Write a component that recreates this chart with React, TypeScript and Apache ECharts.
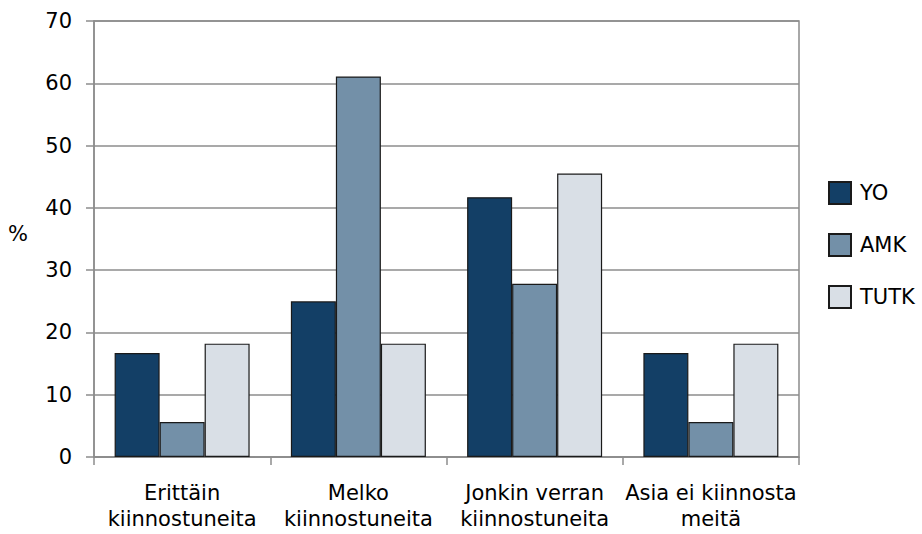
import React, { useEffect, useRef } from "react";
import * as echarts from "echarts";

const categories = ["Erittäin\nkiinnostuneita", "Melko\nkiinnostuneita", "Jonkin verran\nkiinnostuneita", "Asia ei kiinnosta\nmeitä"];
const yo = [16.7, 25.0, 41.7, 16.7];
const amk = [5.6, 61.1, 27.8, 5.6];
const tutk = [18.2, 18.2, 45.5, 18.2];
const seriesNames = ["YO", "AMK", "TUTK"];
const colors = ["#133f66", "#7390a8", "#d9dfe6"];

export default function App() {
  const ref = useRef<HTMLDivElement>(null);
  useEffect(() => {
    const chart = echarts.init(ref.current!, undefined, { renderer: "svg" });
    const font = "'DejaVu Sans', sans-serif";
    const data = [yo, amk, tutk];
    chart.setOption({
      animation: false,
      textStyle: { fontFamily: font },
      grid: { left: 94, right: 123, top: 21, bottom: 77, show: true, borderColor: "#8c8c8c", borderWidth: 1.5 },
      legend: {
        orient: "vertical",
        left: 828,
        top: 181,
        padding: 0,
        itemWidth: 22,
        itemHeight: 22,
        itemGap: 28,
        icon: "rect",
        data: seriesNames,
        textStyle: { fontSize: 21, lineHeight: 22, color: "#000", fontFamily: font, padding: [0, 0, 0, 4] },
      },
      graphic: [
        { type: "text", x: 8, y: 234, style: { text: "%", fontSize: 21, fill: "#000", fontFamily: font, verticalAlign: "middle" } },
      ],
      xAxis: {
        type: "category",
        data: categories,
        axisLine: { lineStyle: { color: "#8c8c8c", width: 1.5 } },
        axisTick: { show: true, length: 8, lineStyle: { color: "#8c8c8c", width: 1.5 } },
        axisLabel: { fontSize: 21, color: "#000", margin: 23, lineHeight: 26, interval: 0, fontFamily: font },
      },
      yAxis: {
        type: "value",
        min: 0,
        max: 70,
        interval: 10,
        axisLine: { show: true, lineStyle: { color: "#8c8c8c", width: 1.5 } },
        axisTick: { show: true, length: 8, lineStyle: { color: "#8c8c8c", width: 1.5 } },
        splitLine: { lineStyle: { color: "#8c8c8c", width: 1.5 } },
        axisLabel: { fontSize: 21, color: "#000", margin: 22, fontFamily: font },
      },
      series: seriesNames.map((name, i) => ({
        name,
        type: "bar",
        data: data[i],
        barWidth: 45,
        barGap: "0%",
        itemStyle: { color: colors[i], borderColor: "#1a1a1a", borderWidth: 1.2 },
      })),
    });
    return () => chart.dispose();
  }, []);
  return <div ref={ref} style={{ width: 922, height: 534, position: "absolute", left: 0, top: 0 }} />;
}
